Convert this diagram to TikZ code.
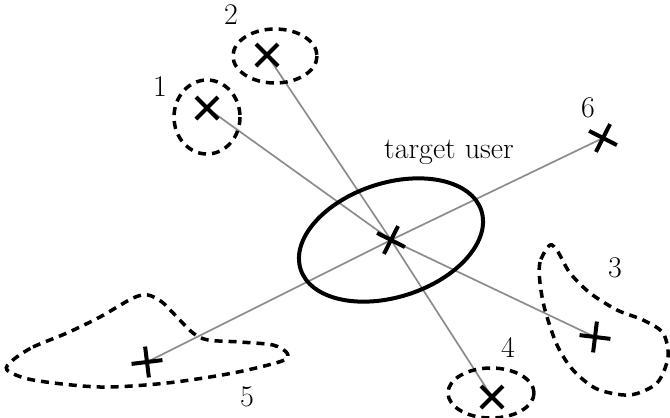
\documentclass[tikz,border=0pt]{standalone}
\usepackage{tikz}
\usetikzlibrary{shapes.misc,backgrounds}

\begin{document}
\begin{tikzpicture}[x=1pt,y=-1pt,
    xmark/.style={cross out,draw=black,line width=4pt,minimum size=18pt,inner sep=0pt},
    link/.style={line width=1.7pt,black!45},
    zone/.style={line width=3.5pt,dash pattern=on 8pt off 6pt},
    num/.style={font=\fontsize{30}{36}\selectfont}]
    \useasboundingbox (0,0) rectangle (670,418);
    % target user and its neighbours
    \node[xmark,rotate=18] (u) at (391,240) {};
    \node[xmark] (p1) at (207,108) {};
    \node[xmark] (p2) at (267,55) {};
    \node[xmark,rotate=38] (p3) at (595,337) {};
    \node[xmark] (p4) at (492,397) {};
    \node[xmark,rotate=52] (p5) at (147,362) {};
    \node[xmark,rotate=18] (p6) at (603,138) {};
    \draw[line width=4pt,shift={(u.center)},rotate=18] (0,0) ellipse [x radius=95,y radius=57];
    \begin{scope}[on background layer]
      \foreach \i in {1,...,6} \draw[link] (u.center) -- (p\i.center);
    \end{scope}
    % clusters
    \draw[zone] (207,117) ellipse [x radius=33,y radius=37];
    \draw[zone] (275,56) ellipse [x radius=42,y radius=27];
    \draw[zone] (491,393) ellipse [x radius=43,y radius=25];
    \draw[zone] plot[smooth cycle] coordinates {(550,245) (540,262) (540,283) (545,310) (557,345) (573,370) (597,389) (630,395) (657,383) (668,357) (663,333) (643,320) (617,310) (590,293) (570,273) (558,252)};
    \draw[zone] plot[smooth cycle] coordinates {(13,360) (33,347) (67,333) (100,317) (133,298) (148,295) (162,302) (175,315) (193,333) (208,340) (240,342) (273,345) (287,353) (282,361) (233,373) (167,383) (100,387) (33,380) (7,370)};
    % labels
    \node[num] (tu) at (449,152) {target user};
    \node[num] (n1) at (160,87) {1};
    \node[num] (n2) at (231,15) {2};
    \node[num] (n3) at (615,268) {3};
    \node[num] (n4) at (508,347) {4};
    \node[num] (n5) at (247,397) {5};
    \node[num] (n6) at (588,108) {6};
\end{tikzpicture}
\end{document}
